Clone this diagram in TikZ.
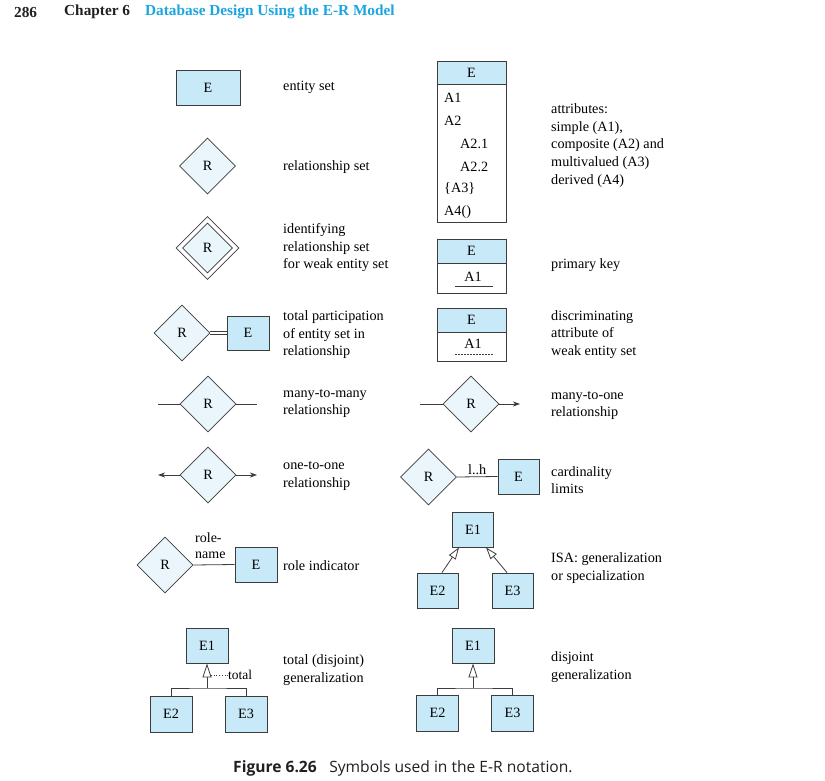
\documentclass[tikz,border=0pt]{standalone}
\usepackage{fontspec}
\setmainfont{Liberation Serif}
\newfontfamily\capfont{Open Sans}
\usetikzlibrary{shapes.geometric,arrows.meta}
\definecolor{efill}{HTML}{C8E9F8}
\definecolor{rfill}{HTML}{EAF6FC}
\definecolor{edge}{HTML}{3C3C3C}
\definecolor{titleblue}{HTML}{1BA6E1}
\definecolor{hdark}{HTML}{231F20}
\begin{document}
\begin{tikzpicture}[x=1pt,y=-1pt,
  font=\fontsize{14.2}{17.5}\selectfont,
  ent/.style={draw=edge, fill=efill, line width=0.9pt, minimum width=41pt, minimum height=35pt, inner sep=0pt},
  rel/.style={diamond, draw=edge, fill=rfill, line width=0.7pt, aspect=1, minimum width=56pt, minimum height=56pt, inner sep=0pt},
  lbl/.style={anchor=west, align=left, inner sep=0pt},
  txt/.style={anchor=west, inner sep=0pt},
  conn/.style={draw=edge, line width=0.8pt},
  arr/.style={conn, -{Stealth[length=7pt,width=5pt,inset=2pt]}},
  isa/.style={conn, -{Triangle[open,length=12pt,width=8pt]}},
  gen/.style={conn, -{Triangle[open,length=14pt,width=9pt]}},
  hdr/.style={anchor=west, inner sep=0pt, font=\bfseries\fontsize{15.3}{18}\selectfont}]
\useasboundingbox[fill=white] (0,0) rectangle (825,781);

% header
\node[hdr, text=hdark] (pg) at (14,12) {286};
\node[hdr, text=hdark] (ch) at (64,12) {Chapter 6};
\node[hdr, text=titleblue] (tt) at (145,12) {Database Design Using the E-R Model};

% ---------- left column ----------
\node[ent, minimum width=64pt] (es) at (208,87.5) {E};
\node[lbl] (esl) at (283,87) {entity set};

\node[rel] (rs) at (207.5,166) {R};
\node[lbl] (rsl) at (283,167) {relationship set};

\node[rel, fill=white, minimum width=63pt, minimum height=63pt] (idO) at (207.5,248) {};
\node[rel, minimum width=50pt, minimum height=50pt] (idR) at (207.5,248) {R};
\node[lbl] (idl) at (283,248) {identifying\\relationship set\\for weak entity set};

\node[rel] (tpR) at (182,333) {R};
\node[ent, minimum width=42pt, minimum height=34pt] (tpE) at (248,333) {E};
\draw[draw=edge, line width=0.6pt, double=white, double distance=2.2pt] (tpR.east) -- (tpE.west);
\node[lbl] (tpl) at (283,335) {total participation\\of entity set in\\relationship};

\node[rel] (mmR) at (208,404) {R};
\coordinate (mmA) at (158,404);
\coordinate (mmB) at (257,404);
\draw[conn] (mmA) -- (mmR.west);
\draw[conn] (mmR.east) -- (mmB);
\node[lbl] (mml) at (283,403.5) {many-to-many\\relationship};

\node[rel] (ooR) at (208,475) {R};
\coordinate (ooA) at (158,475);
\coordinate (ooB) at (257,475);
\draw[arr] (ooR.west) -- (ooA);
\draw[arr] (ooR.east) -- (ooB);
\node[lbl] (ool) at (283,476) {one-to-one\\relationship};

\node[rel] (roR) at (165,565) {R};
\node[ent, minimum width=42pt] (roE) at (256,564.5) {E};
\draw[conn] (roR.east) -- (roE.west);
\node[lbl, font=\fontsize{14}{16}\selectfont] (ron) at (195,546) {role-\\name};
\node[lbl] (rol) at (283,566) {role indicator};

\node[ent, minimum width=42pt] (tgE1) at (207,645.5) {E1};
\node[ent, minimum width=42pt, minimum height=36pt] (tgE2) at (171,714) {E2};
\node[ent, minimum width=42pt, minimum height=36pt] (tgE3) at (246,714) {E3};
\coordinate (tgbar) at (207,688);
\draw[gen] (tgbar) -- (tgE1.south);
\draw[conn] (tgE2.north) |- (tgbar) -| (tgE3.north);
\coordinate (tgtri) at (211,675);
\node[txt, font=\fontsize{13.5}{16}\selectfont] (tot) at (228,675) {total};
\draw[draw=edge, line width=0.7pt, dotted] (tgtri) -- (tot.west);
\node[lbl] (tgl) at (283,670) {total (disjoint)\\generalization};

% ---------- right column ----------
\node[draw=edge, fill=efill, line width=0.9pt, minimum width=69pt, minimum height=23pt, inner sep=0pt] (atH) at (471.5,72.5) {E};
\node[draw=edge, fill=white, line width=0.9pt, minimum width=69pt, minimum height=138pt, inner sep=0pt, anchor=north] (atB) at (atH.south) {};
\node[txt] (a1) at (444,98) {A1};
\node[txt] (a2) at (444,121) {A2};
\node[txt] (a21) at (460,144) {A2.1};
\node[txt] (a22) at (460,167) {A2.2};
\node[txt] (a3) at (444,189) {\{A3\}};
\node[txt] (a4) at (444,212) {A4()};
\node[lbl, font=\fontsize{14.2}{17.8}\selectfont] (atl) at (551,145.5) {attributes:\\simple (A1),\\composite (A2) and\\multivalued (A3)\\derived (A4)};

\node[draw=edge, fill=efill, line width=0.9pt, minimum width=69pt, minimum height=24pt, inner sep=0pt] (pkH) at (471.5,251) {E};
\node[draw=edge, fill=white, line width=0.9pt, minimum width=69pt, minimum height=30pt, inner sep=0pt, anchor=north] (pkB) at (pkH.south) {};
\node[inner sep=0pt] (pkA) at (473,276.5) {A1};
\draw[conn] ([xshift=-16.5pt,yshift=-7.5pt]pkB.center) -- ([xshift=21.5pt,yshift=-7.5pt]pkB.center);
\node[lbl] (pkl) at (551,265) {primary key};

\node[draw=edge, fill=efill, line width=0.9pt, minimum width=69pt, minimum height=24pt, inner sep=0pt] (dkH) at (471.5,320) {E};
\node[draw=edge, fill=white, line width=0.9pt, minimum width=69pt, minimum height=29pt, inner sep=0pt, anchor=north] (dkB) at (dkH.south) {};
\node[inner sep=0pt] (dkA) at (473,344) {A1};
\draw[draw=edge, line width=0.7pt, dash pattern=on 1.5pt off 1.5pt] ([xshift=-16.5pt,yshift=-7pt]dkB.center) -- ([xshift=21.5pt,yshift=-7pt]dkB.center);
\node[lbl] (dkl) at (551,334.5) {discriminating\\attribute of\\weak entity set};

\node[rel] (moR) at (471,404) {R};
\coordinate (moA) at (420,404);
\coordinate (moB) at (520,404);
\draw[conn] (moA) -- (moR.west);
\draw[arr] (moR.east) -- (moB);
\node[lbl] (mol) at (551,405.5) {many-to-one\\relationship};

\node[rel] (caR) at (428.5,477) {R};
\node[ent] (caE) at (518.5,476.5) {E};
\draw[conn] (caR.east) -- node[above, inner sep=2pt] {l..h} (caE.west);
\node[lbl] (cal) at (551,480) {cardinality\\limits};

\node[ent] (isE1) at (473,529.5) {E1};
\node[ent] (isE2) at (437.5,590.5) {E2};
\node[ent] (isE3) at (512.5,590.5) {E3};
\draw[isa] ([xshift=4.5pt]isE2.north) -- ([xshift=-14pt]isE1.south);
\draw[isa] ([xshift=-5.5pt]isE3.north) -- ([xshift=13pt]isE1.south);
\node[lbl] (isl) at (551,568) {ISA: generalization\\or specialization};

\node[ent, minimum width=42pt] (djE1) at (473,645.5) {E1};
\node[ent, minimum width=42pt, minimum height=36pt] (djE2) at (437.5,713) {E2};
\node[ent, minimum width=42pt, minimum height=36pt] (djE3) at (512.5,713) {E3};
\coordinate (djbar) at (473,688);
\draw[gen] (djbar) -- (djE1.south);
\draw[conn] (djE2.north) |- (djbar) -| (djE3.north);
\node[lbl] (djl) at (551,667) {disjoint\\generalization};

% caption
\node[txt, font=\capfont\fontsize{15.6}{18}\selectfont, text=hdark] (cap) at (233,768) {\textbf{Figure 6.26}\hspace{0.8em}Symbols used in the E-R notation.};
\end{tikzpicture}
\end{document}
